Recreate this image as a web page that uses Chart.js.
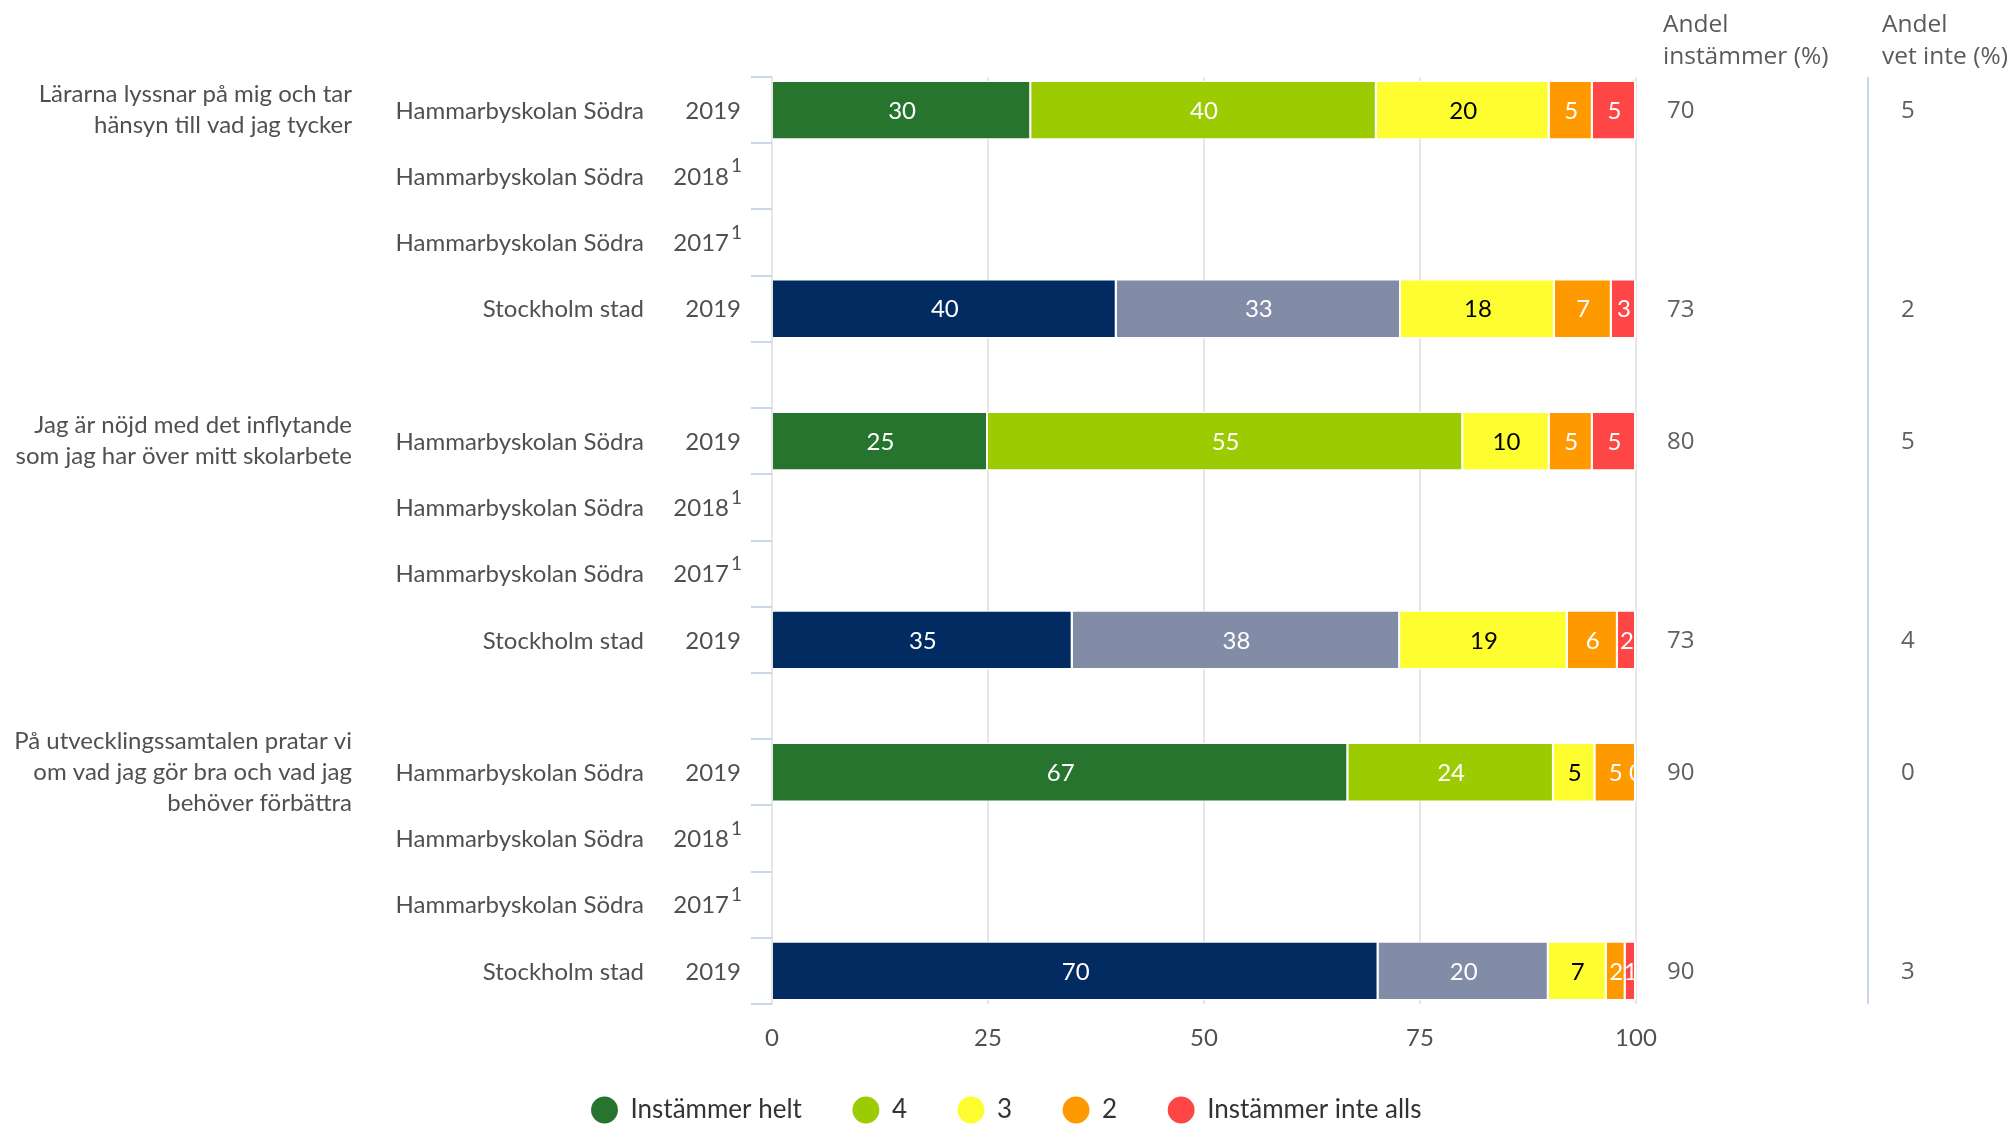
<!DOCTYPE html>
<html>
<head>
<meta charset="utf-8">
<script src="https://cdn.jsdelivr.net/npm/chart.js@4.4.0/dist/chart.umd.min.js"></script>
<style>
html,body{margin:0;padding:0;background:#fff;}
#wrap{width:2013px;height:1124px;position:relative;}
</style>
</head>
<body>
<div id="wrap"><canvas id="c" width="2013" height="1124"></canvas></div>
<script>
// ---- data ----
const questions = [
  ["Lärarna lyssnar på mig och tar", "hänsyn till vad jag tycker"],
  ["Jag är nöjd med det inflytande", "som jag har över mitt skolarbete"],
  ["På utvecklingssamtalen pratar vi", "om vad jag gör bra och vad jag", "behöver förbättra"]
];
const questionRows = [0, 5, 10];
const units = [
  "Hammarbyskolan Södra","Hammarbyskolan Södra","Hammarbyskolan Södra","Stockholm stad","",
  "Hammarbyskolan Södra","Hammarbyskolan Södra","Hammarbyskolan Södra","Stockholm stad","",
  "Hammarbyskolan Södra","Hammarbyskolan Södra","Hammarbyskolan Södra","Stockholm stad"
];
const years = ["2019","2018","2017","2019","", "2019","2018","2017","2019","", "2019","2018","2017","2019"];
const footnotes = ["","1","1","","", "","1","1","","", "","1","1",""];
const seriesNames = ["Instämmer helt","4","3","2","Instämmer inte alls"];
const instammerHelt = [30, null, null, 39.9, null, 25, null, null, 34.8, null, 66.7, null, null, 70.2];
const varde4        = [40, null, null, 32.9, null, 55, null, null, 37.9, null, 23.8, null, null, 19.7];
const varde3        = [20, null, null, 17.8, null, 10, null, null, 19.4, null, 4.8, null, null, 6.7];
const varde2        = [5, null, null, 6.6, null, 5, null, null, 5.8, null, 4.7, null, null, 2.2];
const instammerInte = [5, null, null, 2.8, null, 5, null, null, 2.1, null, 0, null, null, 1.2];
const andelInstammer = [70, null, null, 73, null, 80, null, null, 73, null, 90, null, null, 90];
const andelVetInte   = [5, null, null, 2, null, 5, null, null, 4, null, 0, null, null, 3];
const xTicks = [0, 25, 50, 75, 100];
const colHeaders = [["Andel", "instämmer (%)"], ["Andel", "vet inte (%)"]];

// ---- styles ----
const schoolColors = ["#27742f", "#9bcb00", "#fdfd30", "#fe9900", "#fe4646"];
const cityColors   = ["#022b62", "#838ca6", "#fdfd30", "#fe9900", "#fe4646"];
const labelColors  = ["#ffffff", "#ffffff", "#000000", "#ffffff", "#ffffff"];
const textColor = "#505050";
const FONT = "Lato";

const seriesData = [instammerHelt, varde4, varde3, varde2, instammerInte];
const categories = units.map((u, i) => u + " " + years[i]);

const datasets = seriesData.map((d, k) => ({
  label: seriesNames[k],
  data: d,
  backgroundColor: ctx => (units[ctx.dataIndex] === "Stockholm stad" ? cityColors[k] : schoolColors[k]),
  borderColor: "#ffffff",
  borderWidth: {top: 1, bottom: 1, left: 0, right: 2},
  borderSkipped: false,
  barPercentage: 0.88,
  categoryPercentage: 1.0
}));

const barLabels = {
  id: "barLabels",
  afterDatasetsDraw(chart) {
    const {ctx, chartArea: a} = chart;
    ctx.save();
    ctx.beginPath();
    ctx.rect(a.left, a.top, a.right - a.left, a.bottom - a.top);
    ctx.clip();
    ctx.font = "24px " + FONT;
    ctx.textAlign = "center";
    ctx.textBaseline = "middle";
    chart.data.datasets.forEach((ds, di) => {
      const meta = chart.getDatasetMeta(di);
      meta.data.forEach((el, i) => {
        const v = ds.data[i];
        if (v === null || v === undefined) return;
        const p = el.getProps(["x", "base", "y"], true);
        ctx.fillStyle = labelColors[di];
        ctx.fillText(String(Math.round(v)), (p.x + p.base) / 2, p.y + 1);
      });
    });
    ctx.restore();
  }
};

const sideText = {
  id: "sideText",
  afterDraw(chart) {
    const {ctx, chartArea: a} = chart;
    const y = chart.scales.y;
    ctx.save();
    ctx.fillStyle = textColor;
    ctx.textBaseline = "middle";
    // row labels
    units.forEach((u, i) => {
      if (!u) return;
      const cy = y.getPixelForValue(i);
      ctx.font = "24px " + FONT;
      ctx.textAlign = "right";
      ctx.fillText(u, 644, cy + 1);
      if (footnotes[i]) {
        ctx.fillText(years[i], 729, cy + 1);
        ctx.font = "19px " + FONT;
        ctx.textAlign = "left";
        ctx.fillText(footnotes[i], 731, cy - 10);
      } else {
        ctx.fillText(years[i], 741, cy + 1);
      }
    });
    // question labels
    ctx.font = "24px " + FONT;
    ctx.textAlign = "right";
    questions.forEach((lines, q) => {
      const cy = y.getPixelForValue(questionRows[q]);
      const lh = 31;
      const start = cy - (lines.length - 1) * lh / 2;
      lines.forEach((ln, j) => ctx.fillText(ln, 352, start + j * lh));
    });
    // right columns
    ctx.font = "24.5px 'Open Sans'";
    ctx.textAlign = "left";
    ctx.fillStyle = "#5a5a5a";
    [1663, 1882].forEach((x, c) => {
      ctx.fillText(colHeaders[c][0], x, 25);
      ctx.fillText(colHeaders[c][1], x, 57);
    });
    ctx.font = "24px 'Open Sans'";
    ctx.fillStyle = "#606060";
    andelInstammer.forEach((v, i) => {
      if (v === null) return;
      ctx.fillText(String(v), 1667, y.getPixelForValue(i) + 1);
    });
    andelVetInte.forEach((v, i) => {
      if (v === null) return;
      ctx.fillText(String(v), 1901, y.getPixelForValue(i) + 1);
    });
    // divider
    ctx.strokeStyle = "#c9d5ee";
    ctx.lineWidth = 2;
    ctx.beginPath();
    ctx.moveTo(1868, a.top);
    ctx.lineTo(1868, a.bottom);
    ctx.stroke();
    ctx.restore();
  }
};

new Chart(document.getElementById("c"), {
  type: "bar",
  data: {labels: categories, datasets},
  options: {
    indexAxis: "y",
    responsive: false,
    devicePixelRatio: 1,
    animation: false,
    layout: {padding: {top: 77, left: 0, right: 0, bottom: -9}},
    scales: {
      x: {
        stacked: true,
        min: 0, max: 100,
        afterBuildTicks: s => { s.ticks = xTicks.map(v => ({value: v})); },
        afterFit: s => { s.height = 42; },
        grid: {color: "#e6e6e6", lineWidth: 2, drawTicks: false},
        border: {display: false},
        ticks: {font: {family: FONT, size: 24}, color: textColor, padding: 20}
      },
      y: {
        stacked: true,
        position: "left",
        afterFit: s => { s.width = 772; },
        grid: {drawOnChartArea: false, drawTicks: true, tickLength: 21, color: "#ccd6eb", lineWidth: 2, offset: true},
        border: {display: false},
        ticks: {display: false}
      },
      y2: {
        type: "linear",
        position: "right",
        afterFit: s => { s.width = 377; },
        grid: {display: false, drawTicks: false},
        border: {display: false},
        ticks: {display: false}
      }
    },
    plugins: {
      tooltip: {enabled: false},
      legend: {
        position: "bottom",
        labels: {
          usePointStyle: true,
          boxWidth: 30,
          boxHeight: 19,
          padding: 51,
          color: "#333333",
          font: {family: FONT, size: 26},
          generateLabels: chart => seriesNames.map((n, i) => ({
            text: n,
            fillStyle: schoolColors[i],
            strokeStyle: schoolColors[i],
            lineWidth: 0,
            pointStyle: "circle",
            datasetIndex: i,
            fontColor: "#333333"
          }))
        }
      }
    }
  },
  plugins: [barLabels, sideText]
});
</script>
</body>
</html>
